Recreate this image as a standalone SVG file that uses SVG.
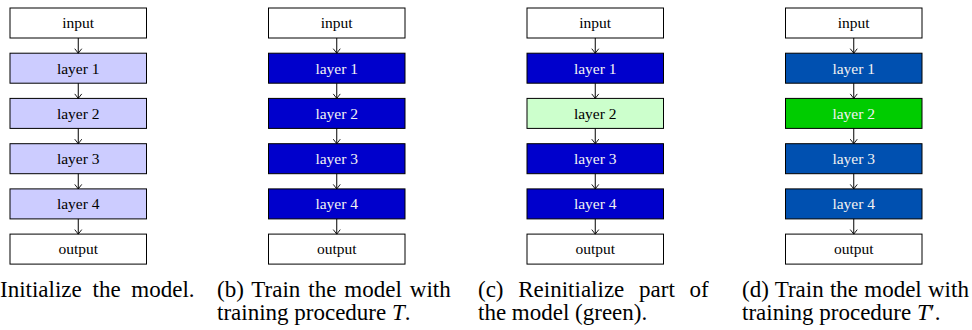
<svg xmlns="http://www.w3.org/2000/svg" width="972" height="330" viewBox="0 0 972 330">
<style>
.box{stroke:#000;stroke-width:1}
.w{fill:#fff}.lb{fill:#ccccff}.db{fill:#0000cc}.lg{fill:#ccffcc}.mb{fill:#0050b0}.gg{fill:#00cc00}
.t{font-family:"Liberation Serif","Times New Roman",serif;font-size:15.5px;text-anchor:middle;fill:#000}
.tw{fill:#f2f2f2}
.cap{font-family:"Liberation Serif","Times New Roman",serif;font-size:23px;fill:#000}
.arr{stroke:#000;stroke-width:1;fill:none;marker-end:url(#ah)}
</style>
<defs>
<marker id="ah" viewBox="-6 -5 7 10" refX="0" refY="0" markerWidth="7" markerHeight="10" markerUnits="userSpaceOnUse" orient="auto">
<path d="M-4.5,-3.5 L0,0 L-4.5,3.5" fill="none" stroke="#000" stroke-width="0.9"/>
</marker>
</defs>
<rect width="972" height="330" fill="#fff"/>

<!-- Panel a -->
<g id="a-input"><rect class="box w" x="10" y="8" width="136.5" height="30"/><text class="t" x="78.25" y="28.3">input</text></g>
<g id="a-layer1"><rect class="box lb" x="10" y="53.2" width="136.5" height="30"/><text class="t" x="78.25" y="73.5">layer 1</text></g>
<g id="a-layer2"><rect class="box lb" x="10" y="98.4" width="136.5" height="30"/><text class="t" x="78.25" y="118.7">layer 2</text></g>
<g id="a-layer3"><rect class="box lb" x="10" y="143.7" width="136.5" height="30"/><text class="t" x="78.25" y="164">layer 3</text></g>
<g id="a-layer4"><rect class="box lb" x="10" y="188.9" width="136.5" height="30"/><text class="t" x="78.25" y="209.2">layer 4</text></g>
<g id="a-output"><rect class="box w" x="10" y="234.1" width="136.5" height="30"/><text class="t" x="78.25" y="254.4">output</text></g>

<!-- Panel b -->
<g id="b-input"><rect class="box w" x="268.5" y="8" width="136.5" height="30"/><text class="t" x="336.75" y="28.3">input</text></g>
<g id="b-layer1"><rect class="box db" x="268.5" y="53.2" width="136.5" height="30"/><text class="t tw" x="336.75" y="73.5">layer 1</text></g>
<g id="b-layer2"><rect class="box db" x="268.5" y="98.4" width="136.5" height="30"/><text class="t tw" x="336.75" y="118.7">layer 2</text></g>
<g id="b-layer3"><rect class="box db" x="268.5" y="143.7" width="136.5" height="30"/><text class="t tw" x="336.75" y="164">layer 3</text></g>
<g id="b-layer4"><rect class="box db" x="268.5" y="188.9" width="136.5" height="30"/><text class="t tw" x="336.75" y="209.2">layer 4</text></g>
<g id="b-output"><rect class="box w" x="268.5" y="234.1" width="136.5" height="30"/><text class="t" x="336.75" y="254.4">output</text></g>

<!-- Panel c -->
<g id="c-input"><rect class="box w" x="527" y="8" width="136.5" height="30"/><text class="t" x="595.25" y="28.3">input</text></g>
<g id="c-layer1"><rect class="box db" x="527" y="53.2" width="136.5" height="30"/><text class="t tw" x="595.25" y="73.5">layer 1</text></g>
<g id="c-layer2"><rect class="box lg" x="527" y="98.4" width="136.5" height="30"/><text class="t" x="595.25" y="118.7">layer 2</text></g>
<g id="c-layer3"><rect class="box db" x="527" y="143.7" width="136.5" height="30"/><text class="t tw" x="595.25" y="164">layer 3</text></g>
<g id="c-layer4"><rect class="box db" x="527" y="188.9" width="136.5" height="30"/><text class="t tw" x="595.25" y="209.2">layer 4</text></g>
<g id="c-output"><rect class="box w" x="527" y="234.1" width="136.5" height="30"/><text class="t" x="595.25" y="254.4">output</text></g>

<!-- Panel d -->
<g id="d-input"><rect class="box w" x="785.5" y="8" width="136.5" height="30"/><text class="t" x="853.75" y="28.3">input</text></g>
<g id="d-layer1"><rect class="box mb" x="785.5" y="53.2" width="136.5" height="30"/><text class="t tw" x="853.75" y="73.5">layer 1</text></g>
<g id="d-layer2"><rect class="box gg" x="785.5" y="98.4" width="136.5" height="30"/><text class="t tw" x="853.75" y="118.7">layer 2</text></g>
<g id="d-layer3"><rect class="box mb" x="785.5" y="143.7" width="136.5" height="30"/><text class="t tw" x="853.75" y="164">layer 3</text></g>
<g id="d-layer4"><rect class="box mb" x="785.5" y="188.9" width="136.5" height="30"/><text class="t tw" x="853.75" y="209.2">layer 4</text></g>
<g id="d-output"><rect class="box w" x="785.5" y="234.1" width="136.5" height="30"/><text class="t" x="853.75" y="254.4">output</text></g>

<g id="connectors">
<path class="arr" d="M78.25,38 V53.2"/><path class="arr" d="M78.25,83.2 V98.4"/><path class="arr" d="M78.25,128.4 V143.7"/><path class="arr" d="M78.25,173.7 V188.9"/><path class="arr" d="M78.25,218.9 V234.1"/>
<path class="arr" d="M336.75,38 V53.2"/><path class="arr" d="M336.75,83.2 V98.4"/><path class="arr" d="M336.75,128.4 V143.7"/><path class="arr" d="M336.75,173.7 V188.9"/><path class="arr" d="M336.75,218.9 V234.1"/>
<path class="arr" d="M595.25,38 V53.2"/><path class="arr" d="M595.25,83.2 V98.4"/><path class="arr" d="M595.25,128.4 V143.7"/><path class="arr" d="M595.25,173.7 V188.9"/><path class="arr" d="M595.25,218.9 V234.1"/>
<path class="arr" d="M853.75,38 V53.2"/><path class="arr" d="M853.75,83.2 V98.4"/><path class="arr" d="M853.75,128.4 V143.7"/><path class="arr" d="M853.75,173.7 V188.9"/><path class="arr" d="M853.75,218.9 V234.1"/>
</g>

<g id="captions">
<text class="cap" x="0" y="297" word-spacing="5">Initialize the model.</text>
<text class="cap" x="217" y="297" word-spacing="2.2">(b) Train the model with</text>
<text class="cap" x="217" y="320">training procedure <tspan font-style="italic">T</tspan>.</text>
<text class="cap" x="478" y="297" word-spacing="9">(c) Reinitialize part of</text>
<text class="cap" x="478" y="320">the model (green).</text>
<text class="cap" x="742" y="297" word-spacing="0.5">(d) Train the model with</text>
<text class="cap" x="742" y="320">training procedure <tspan font-style="italic">T</tspan>′.</text>
</g>
</svg>
